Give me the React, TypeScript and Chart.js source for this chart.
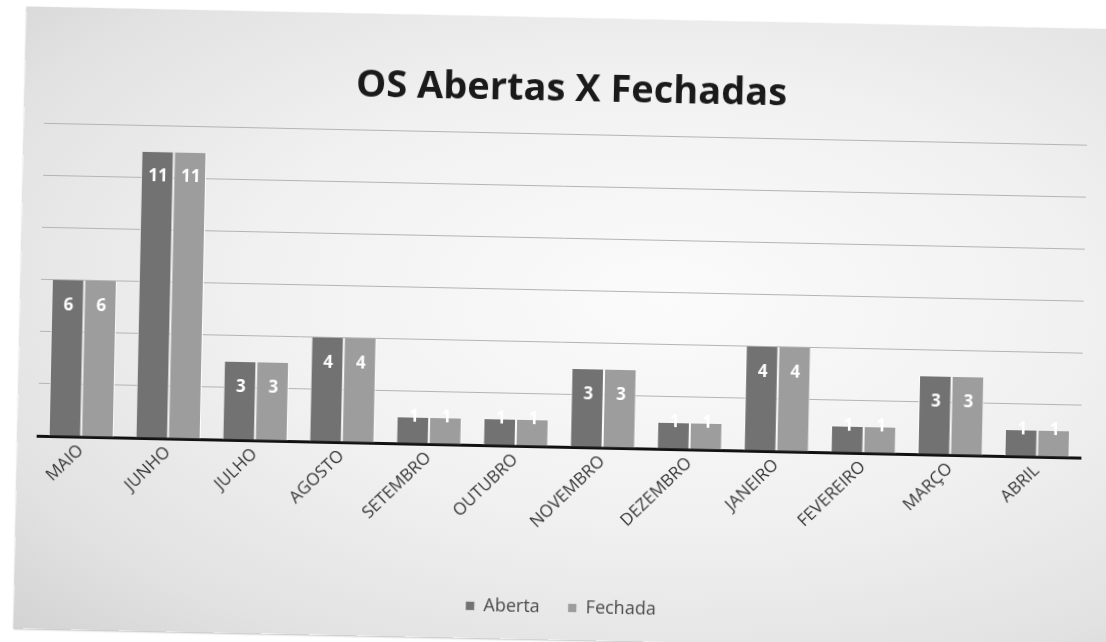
import React, { useEffect, useRef } from "react";
import { Chart, registerables } from "chart.js";

Chart.register(...registerables);

const months = [
  "MAIO", "JUNHO", "JULHO", "AGOSTO", "SETEMBRO", "OUTUBRO",
  "NOVEMBRO", "DEZEMBRO", "JANEIRO", "FEVEREIRO", "MARÇO", "ABRIL",
];
const aberta = [6, 11, 3, 4, 1, 1, 3, 1, 4, 1, 3, 1];
const fechada = [6, 11, 3, 4, 1, 1, 3, 1, 4, 1, 3, 1];
const titleText = "OS Abertas X Fechadas";
const seriesNames = ["Aberta", "Fechada"];
const seriesColors = ["#727272", "#9d9d9d"];

const FONT = "'Open Sans', 'DejaVu Sans', sans-serif";

const barLabels = {
  id: "barLabels",
  afterDatasetsDraw(chart: any) {
    const ctx = chart.ctx;
    ctx.save();
    ctx.font = `bold 17px ${FONT}`;
    ctx.fillStyle = "#ffffff";
    ctx.textAlign = "center";
    ctx.textBaseline = "middle";
    chart.data.datasets.forEach((ds: any, di: number) => {
      const meta = chart.getDatasetMeta(di);
      meta.data.forEach((bar: any, i: number) => {
        const y = Math.min(bar.y + 25, bar.base - 26);
        ctx.fillText(String(ds.data[i]), bar.x + 1, y);
      });
    });
    ctx.restore();
  },
};

export default function App() {
  const ref = useRef<HTMLCanvasElement | null>(null);
  useEffect(() => {
    if (!ref.current) return;
    const chart = new Chart(ref.current, {
      type: "bar",
      data: {
        labels: months,
        datasets: [
          {
            label: seriesNames[0],
            data: aberta,
            backgroundColor: seriesColors[0],
            borderColor: "rgba(255,255,255,0.9)",
            borderWidth: { left: 1, right: 1, top: 0, bottom: 0 },
            borderSkipped: "bottom",
            categoryPercentage: 0.75,
            barPercentage: 1,
          },
          {
            label: seriesNames[1],
            data: fechada,
            backgroundColor: seriesColors[1],
            borderColor: "rgba(255,255,255,0.9)",
            borderWidth: { left: 1, right: 1, top: 0, bottom: 0 },
            borderSkipped: "bottom",
            categoryPercentage: 0.75,
            barPercentage: 1,
          },
        ],
      },
      plugins: [barLabels],
      options: {
        responsive: false,
        animation: false,
        layout: { padding: { left: 20, right: 37, top: 0, bottom: 13 } },
        plugins: {
          title: {
            display: true,
            text: titleText,
            color: "#1a1a1a",
            font: { family: FONT, size: 38, weight: "bold" },
            padding: { top: 49, bottom: 22 },
          },
          legend: {
            position: "bottom",
            labels: {
              color: "#4a4a4a",
              font: { family: FONT, size: 18 },
              boxWidth: 9,
              boxHeight: 9,
              padding: 28,
            },
          },
          tooltip: { enabled: false },
        },
        scales: {
          x: {
            grid: { display: false },
            border: { display: true, color: "#111111", width: 3 },
            ticks: {
              color: "#363636",
              font: { family: FONT, size: 17 },
              minRotation: 45,
              maxRotation: 45,
              padding: -4,
            },
            afterFit: (s: any) => {
              s.height = 124;
            },
          },
          y: {
            position: "right",
            min: 0,
            max: 12,
            ticks: { display: false, stepSize: 2 },
            grid: { color: "#b4b4b4", lineWidth: 1, drawTicks: false },
            border: { display: false },
            afterFit: (s: any) => {
              s.width = 10;
            },
          },
        },
      },
    });
    return () => chart.destroy();
  }, []);

  return (
    <div
      style={{
        position: "fixed",
        left: 0,
        top: 0,
        width: 1106,
        height: 642,
        overflow: "hidden",
        background: "#ffffff",
      }}
    >
      <div
        style={{
          position: "absolute",
          left: 20,
          top: 18,
          width: 1110,
          height: 622,
          transform: "rotate(1.2deg)",
          transformOrigin: "center center",
          background:
            "radial-gradient(ellipse at 58% 45%, #fbfbfb 0%, #f1f1f1 45%, #e2e2e2 80%, #d3d3d3 100%)",
          boxShadow: "0 1px 2px rgba(0,0,0,0.25)",
        }}
      >
        <canvas ref={ref} width={1110} height={622} style={{ display: "block" }} />
      </div>
    </div>
  );
}
